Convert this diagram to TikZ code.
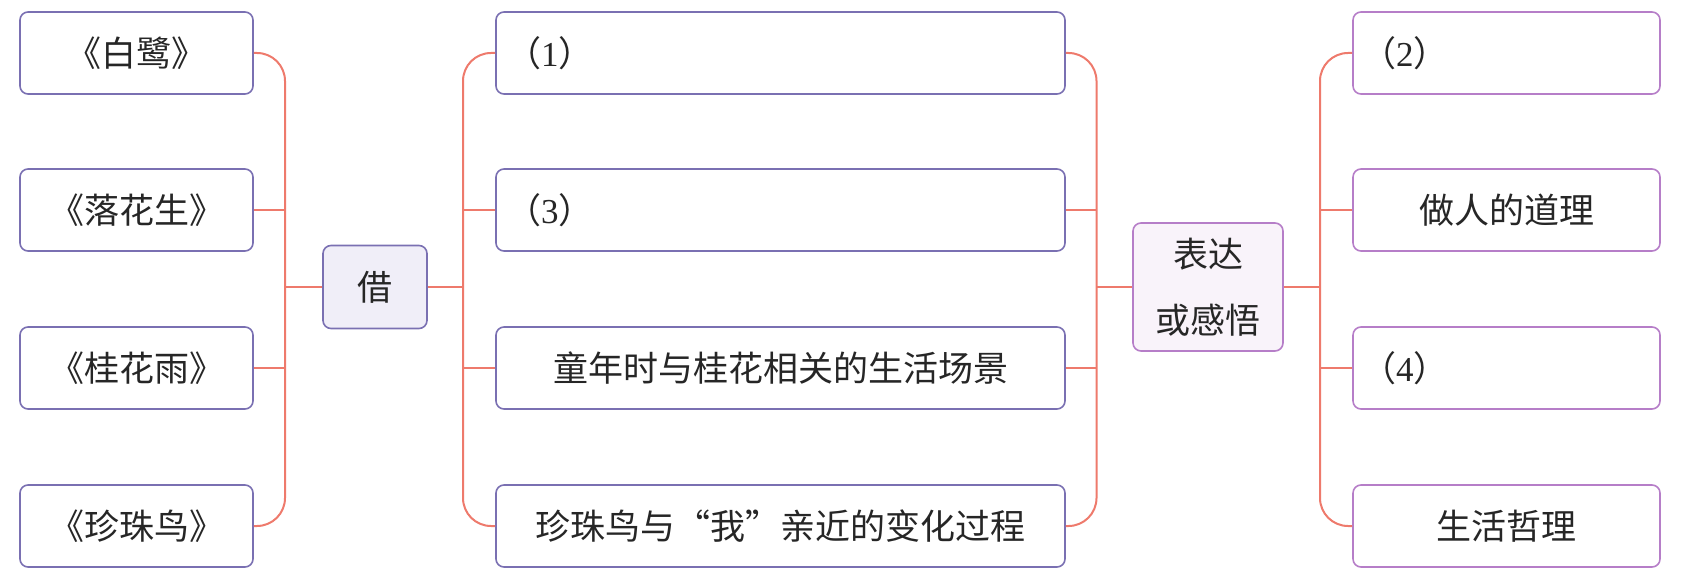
\documentclass[tikz,border=0pt]{standalone}
\usepackage{fontspec}
\setmainfont{Noto Sans CJK SC}
\newfontfamily\numfont{Liberation Serif}
\definecolor{linkred}{RGB}{238,122,108}
\definecolor{boxblue}{RGB}{122,112,178}
\definecolor{boxpink}{RGB}{182,126,200}
\definecolor{hubfill}{RGB}{240,238,248}
\definecolor{hubpink}{RGB}{249,243,250}
\newcommand{\gap}[1]{（{\numfont #1}）}

\begin{document}
\begin{tikzpicture}[
    x=0.5pt, y=-0.5pt,
    every node/.style={rounded corners=4pt, draw=boxblue, line width=0.8pt, inner sep=0pt, align=center,
      font=\fontsize{17.5}{29}\selectfont, text=black!85},
    book/.style={minimum width=116.5pt, minimum height=41pt},
    scene/.style={minimum width=284.5pt, minimum height=41pt},
    idea/.style={draw=boxpink, minimum width=153.5pt, minimum height=41pt},
    blankscene/.style={scene, inner xsep=5pt, text width=274.5pt, align=left},
    blankidea/.style={idea, inner xsep=4pt, text width=145.5pt, align=left},
    link/.style={draw=linkred, line width=1pt, rounded corners=14pt}
  ]
    \useasboundingbox (0,0) rectangle (1681,577);

    % the four texts
    \node[book] (b1) at (136.5,53) {《白鹭》};
    \node[book] (b2) at (136.5,210) {《落花生》};
    \node[book] (b3) at (136.5,368) {《桂花雨》};
    \node[book] (b4) at (136.5,526) {《珍珠鸟》};

    \node[fill=hubfill, minimum width=52pt, minimum height=41.5pt] (jie) at (375,287) {借};

    % what is borrowed
    \node[blankscene] (m1) at (780.5,53) {\gap{1}};
    \node[blankscene] (m2) at (780.5,210) {\gap{3}};
    \node[scene] (m3) at (780.5,368) {童年时与桂花相关的生活场景};
    \node[scene] (m4) at (780.5,526) {珍珠鸟与“我”亲近的变化过程};

    \node[draw=boxpink, fill=hubpink, minimum width=75pt, minimum height=64pt,
      font=\fontsize{17.5}{33}\selectfont] (biao) at (1208,287) {表达\\或感悟};

    % what is expressed
    \node[blankidea] (r1) at (1506.5,53) {\gap{2}};
    \node[idea] (r2) at (1506.5,210) {做人的道理};
    \node[blankidea] (r3) at (1506.5,368) {\gap{4}};
    \node[idea] (r4) at (1506.5,526) {生活哲理};

    % connectors
    \coordinate (lt) at (285,287);
    \coordinate (mt) at (463,287);
    \coordinate (nt) at (1096.5,287);
    \coordinate (rt) at (1320,287);

    \draw[link] (b1.east) -| (lt) |- (b4.east);
    \draw[link] (b2.east) -- (b2.east -| lt);
    \draw[link] (b3.east) -- (b3.east -| lt);
    \draw[link] (lt) -- (jie.west);

    \draw[link] (m1.west) -| (mt) |- (m4.west);
    \draw[link] (m2.west) -- (m2.west -| mt);
    \draw[link] (m3.west) -- (m3.west -| mt);
    \draw[link] (jie.east) -- (mt);

    \draw[link] (m1.east) -| (nt) |- (m4.east);
    \draw[link] (m2.east) -- (m2.east -| nt);
    \draw[link] (m3.east) -- (m3.east -| nt);
    \draw[link] (nt) -- (biao.west);

    \draw[link] (r1.west) -| (rt) |- (r4.west);
    \draw[link] (r2.west) -- (r2.west -| rt);
    \draw[link] (r3.west) -- (r3.west -| rt);
    \draw[link] (biao.east) -- (rt);
\end{tikzpicture}
\end{document}
